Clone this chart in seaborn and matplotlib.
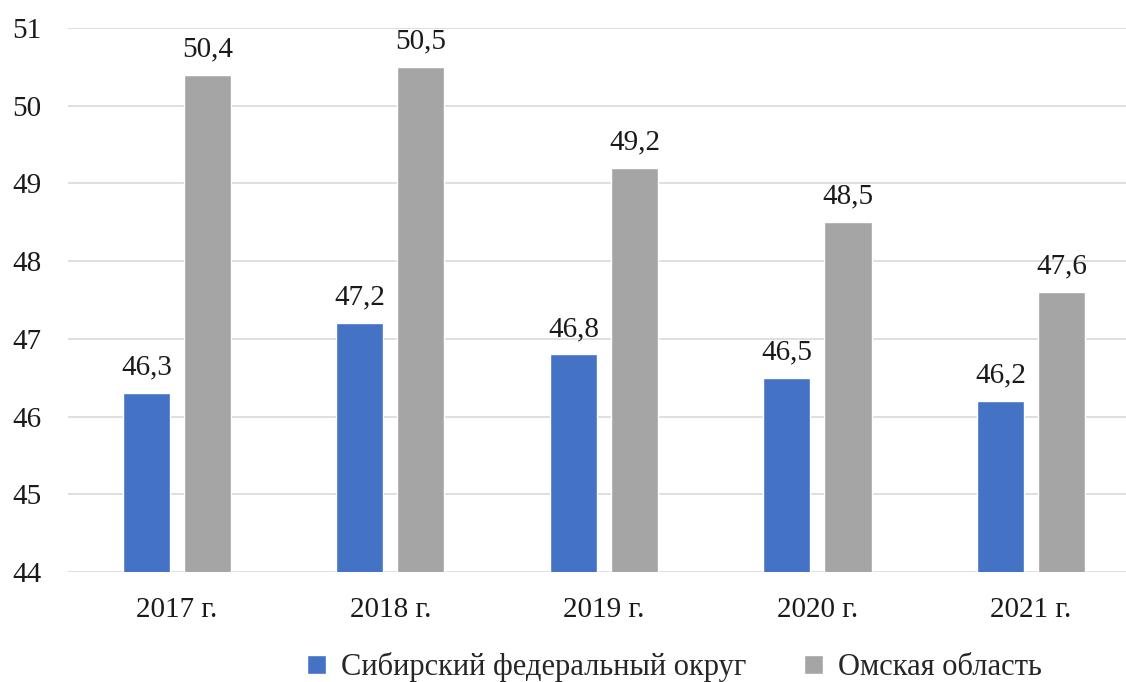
import matplotlib
matplotlib.use("Agg")
import matplotlib.pyplot as plt
import seaborn as sns
import pandas as pd

years = ["2017 г.", "2018 г.", "2019 г.", "2020 г.", "2021 г."]
series_names = ["Сибирский федеральный округ", "Омская область"]
sfo_values = [46.3, 47.2, 46.8, 46.5, 46.2]
omsk_values = [50.4, 50.5, 49.2, 48.5, 47.6]
colors = ["#4472C4", "#A5A5A5"]

df = pd.DataFrame({
    "year": years * 2,
    "series": [series_names[0]] * len(years) + [series_names[1]] * len(years),
    "value": sfo_values + omsk_values,
})

sns.set_theme(style="white")
plt.rcParams["font.family"] = ["Liberation Serif", "DejaVu Serif"]

fig = plt.figure(figsize=(11.26, 6.82), dpi=100)
ax = fig.add_axes([68 / 1126, 1 - 572 / 682, (1126 - 68) / 1126, (572 - 28) / 682])

sns.barplot(data=df, x="year", y="value", hue="series", palette=colors,
            width=0.572, gap=0.23, ax=ax, legend=True, saturation=1)

ax.set_ylim(44, 51)
ax.set_xlim(-0.51, 4.445)
ax.set_yticks(range(44, 52))
ax.yaxis.grid(True, color="#D9D9D9", linewidth=1.2)
ax.set_axisbelow(True)
for s in ax.spines.values():
    s.set_visible(False)
ax.set_xlabel("")
ax.set_ylabel("")
ax.tick_params(axis="y", labelsize=21, length=0, pad=19, colors="#1a1a1a")
ax.tick_params(axis="x", labelsize=21, length=0, pad=18, colors="#1a1a1a")

for cont in ax.containers:
    labels = [f"{v:.1f}".replace(".", ",") for v in cont.datavalues]
    ax.bar_label(cont, labels=labels, padding=9, fontsize=21, color="#1a1a1a")

handles, labs = ax.get_legend_handles_labels()
ax.legend_.remove()
fig.legend(handles, labs, loc="center", bbox_to_anchor=(0.599, 0.022), ncol=2,
           frameon=False, fontsize=22, handlelength=0.6, handleheight=0.6,
           handletextpad=0.5, columnspacing=1.9)

fig.savefig("out.png", dpi=100)
